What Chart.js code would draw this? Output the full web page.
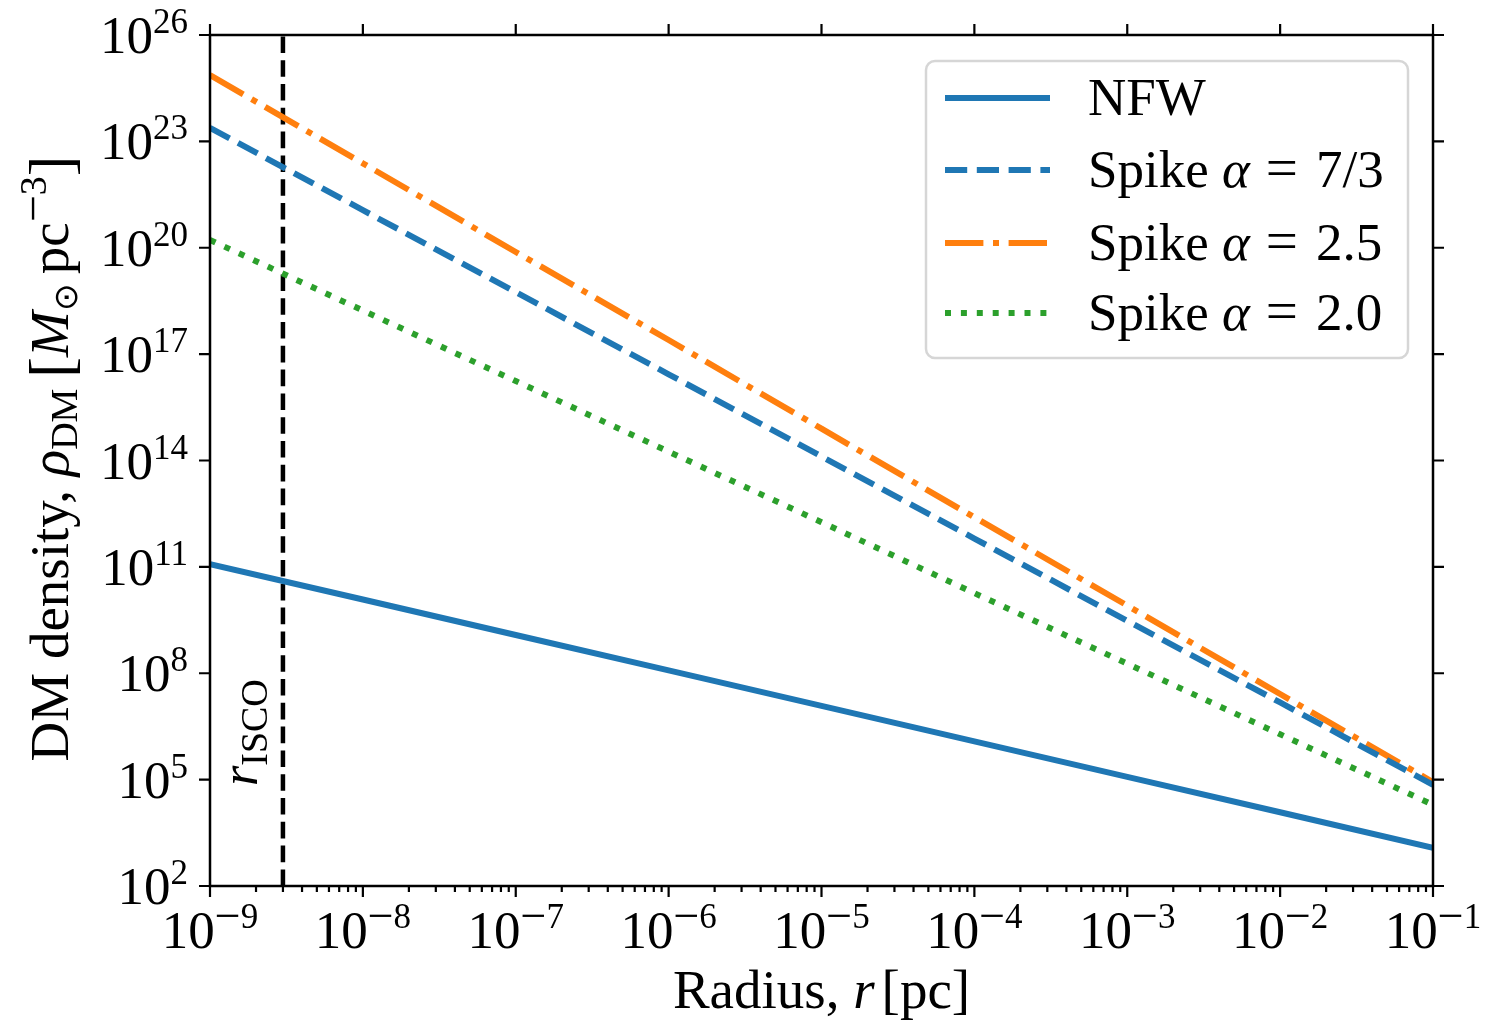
<!DOCTYPE html>
<html>
<head>
<meta charset="utf-8">
<script src="https://cdn.jsdelivr.net/npm/chart.js@4.4.1/dist/chart.umd.min.js"></script>
<style>
html,body{margin:0;padding:0;background:#fff;}
#wrap{width:1496px;height:1025px;position:relative;}
</style>
</head>
<body>
<div id="wrap"><canvas id="c"></canvas></div>
<script>
// ---- data ----
const radius      = [1e-9, 1e-8, 1e-7, 1e-6, 1e-5, 1e-4, 1e-3, 1e-2, 1e-1];
const rhoNFW      = [1.2e11, 1.2e10, 1.2e9, 1.2e8, 1.2e7, 1.2e6, 1.2e5, 1.2e4, 1.2e3];
const rhoSpike73  = [2.4e23, 1.15e21, 5.6e18, 2.7e16, 1.3e14, 6.3e11, 3.0e9, 1.5e7, 7.1e4];
const rhoSpike25  = [7.4e24, 2.4e22, 7.6e19, 2.5e17, 7.9e14, 2.5e12, 8.1e9, 2.6e7, 8.5e4];
const rhoSpike20  = [1.66e20, 1.7e18, 1.74e16, 1.78e14, 1.82e12, 1.82e10, 1.86e8, 1.9e6, 1.95e4];
const rISCO       = 3e-9;
const seriesLabels = ['NFW', 'Spike α = 7/3', 'Spike α = 2.5', 'Spike α = 2.0'];
const xTickExps   = [-9, -8, -7, -6, -5, -4, -3, -2, -1];
const yTickExps   = [2, 5, 8, 11, 14, 17, 20, 23, 26];
const xRange      = [1e-9, 1e-1];
const yRange      = [1e2, 1e26];

const SERIF = '"Liberation Serif", "Times New Roman", serif';
const LW = 6;

function pts(ys){ return radius.map((x,i)=>({x:x, y:ys[i]})); }

const datasets = [
  {label: seriesLabels[0], data: pts(rhoNFW), borderColor:'#1f77b4', borderWidth:LW, borderDash:[]},
  {label: seriesLabels[1], data: pts(rhoSpike73), borderColor:'#1f77b4', borderWidth:LW, borderDash:[3.7*LW,1.6*LW]},
  {label: seriesLabels[2], data: pts(rhoSpike25), borderColor:'#ff7f0e', borderWidth:LW, borderDash:[6.4*LW,1.6*LW,1*LW,1.6*LW]},
  {label: seriesLabels[3], data: pts(rhoSpike20), borderColor:'#2ca02c', borderWidth:LW, borderDash:[1*LW,1.65*LW]},
  {label: 'rISCO', data: [{x:rISCO, y:yRange[0]}, {x:rISCO, y:yRange[1]}], borderColor:'#000', borderWidth:4.5, borderDash:[16.6,7.2], isGuide:true}
].map(d => Object.assign({pointRadius:0, pointHoverRadius:0, tension:0, fill:false, borderCapStyle:'butt', borderJoinStyle:'miter'}, d));

function drawRuns(ctx, runs, x, y, align){
  let total = 0;
  runs.forEach(r => { ctx.font = r.font; r.w = ctx.measureText(r.t).width + (r.sp||0); total += r.w; });
  let cx = align === 'center' ? x - total/2 : (align === 'right' ? x - total : x);
  runs.forEach(r => { ctx.font = r.font; ctx.fillText(r.t, cx + (r.dx||0), y + (r.dy||0)); cx += r.w; });
  return total;
}
function powRuns(e){
  const runs = [{t:'10', font:`53px ${SERIF}`}];
  if (e < 0) runs.push({t:'\u2212', font:`46px ${SERIF}`, dy:-17});
  runs.push({t:String(Math.abs(e)), font:`35px ${SERIF}`, dy:-20});
  return runs;
}

const decor = {
  id:'decor',
  beforeDraw(chart){
    const ctx = chart.ctx;
    ctx.save(); ctx.fillStyle = '#fff'; ctx.fillRect(0,0,chart.width,chart.height); ctx.restore();
  },
  afterDatasetsDraw(chart){
    const ctx = chart.ctx, a = chart.chartArea;
    const xs = chart.scales.x, ys = chart.scales.y;
    ctx.save();
    ctx.strokeStyle = '#000'; ctx.fillStyle = '#000';
    ctx.lineWidth = 2.5;
    ctx.strokeRect(a.left, a.top, a.right - a.left, a.bottom - a.top);
    // ticks
    ctx.lineWidth = 2.2;
    ctx.beginPath();
    xTickExps.forEach(e => {
      const px = xs.getPixelForValue(Math.pow(10, e));
      ctx.moveTo(px, a.bottom); ctx.lineTo(px, a.bottom + 11);
      ctx.moveTo(px, a.top); ctx.lineTo(px, a.top - 11);
    });
    xTickExps.slice(0, -1).forEach(e => {
      for (let m = 2; m <= 9; m++){
        const px = xs.getPixelForValue(m * Math.pow(10, e));
        ctx.moveTo(px, a.bottom); ctx.lineTo(px, a.bottom + 6);
      }
    });
    yTickExps.forEach(e => {
      const py = ys.getPixelForValue(Math.pow(10, e));
      ctx.moveTo(a.left, py); ctx.lineTo(a.left - 11, py);
      ctx.moveTo(a.right, py); ctx.lineTo(a.right + 11, py);
    });
    ctx.stroke();
    // tick labels
    ctx.textAlign = 'left'; ctx.textBaseline = 'alphabetic';
    xTickExps.forEach(e => {
      const px = xs.getPixelForValue(Math.pow(10, e));
      drawRuns(ctx, powRuns(e), px, a.bottom + 62, 'center');
    });
    yTickExps.forEach(e => {
      const py = ys.getPixelForValue(Math.pow(10, e));
      drawRuns(ctx, powRuns(e), a.left - 22, py + 18, 'right');
    });
    // x title
    drawRuns(ctx, [
      {t:'Radius, ', font:`55px ${SERIF}`},
      {t:'r', font:`italic 55px ${SERIF}`, sp:7},
      {t:'[pc]', font:`55px ${SERIF}`}
    ], (a.left + a.right)/2, 1008, 'center');
    // y title
    ctx.save();
    ctx.translate(68, (a.top + a.bottom)/2 - 2);
    ctx.rotate(-Math.PI/2);
    drawRuns(ctx, [
      {t:'DM density, ', font:`55px ${SERIF}`},
      {t:'\u03C1', font:`italic 55px ${SERIF}`},
      {t:'DM', font:`38px ${SERIF}`, dy:9, sp:11},
      {t:'[', font:`62px ${SERIF}`, dy:4},
      {t:'M', font:`italic 55px ${SERIF}`},
      {t:'\u2299', font:`33px ${SERIF}`, dy:9, sp:9},
      {t:'pc', font:`55px ${SERIF}`},
      {t:'\u2212', font:`48px ${SERIF}`, dy:-19},
      {t:'3', font:`38px ${SERIF}`, dy:-22},
      {t:']', font:`62px ${SERIF}`, dy:4}
    ], 0, 0, 'center');
    ctx.restore();
    // r_ISCO label
    ctx.save();
    const rx = xs.getPixelForValue(rISCO);
    ctx.translate(rx - 26, 786);
    ctx.rotate(-Math.PI/2);
    drawRuns(ctx, [
      {t:'r', font:`italic 52px ${SERIF}`},
      {t:'ISCO', font:`38px ${SERIF}`, dy:10}
    ], 0, 0, 'left');
    ctx.restore();
    // legend
    const bx = 926, by = 61, bw = 482, bh = 297, br = 9;
    ctx.beginPath();
    ctx.moveTo(bx + br, by);
    ctx.arcTo(bx + bw, by, bx + bw, by + bh, br);
    ctx.arcTo(bx + bw, by + bh, bx, by + bh, br);
    ctx.arcTo(bx, by + bh, bx, by, br);
    ctx.arcTo(bx, by, bx + bw, by, br);
    ctx.closePath();
    ctx.fillStyle = 'rgba(255,255,255,0.8)'; ctx.fill();
    ctx.strokeStyle = '#d6d6d6'; ctx.lineWidth = 2.5; ctx.stroke();
    const rowY = [98, 170, 243, 313];
    const LF = `53px ${SERIF}`;
    chart.data.datasets.forEach((d, i) => {
      if (d.isGuide) return;
      const cy = rowY[i];
      ctx.save();
      ctx.strokeStyle = d.borderColor; ctx.lineWidth = d.borderWidth; ctx.lineCap = 'butt';
      ctx.setLineDash(d.borderDash || []);
      ctx.beginPath(); ctx.moveTo(945, cy); ctx.lineTo(1050, cy); ctx.stroke();
      ctx.restore();
      ctx.fillStyle = '#000';
      const parts = d.label.split('\u03B1');
      let runs;
      if (parts.length > 1){
        const rhs = parts[1].replace('=', '').trim();
        runs = [
          {t:parts[0], font:LF},
          {t:'\u03B1', font:`italic 53px ${SERIF}`, sp:16},
          {t:'=', font:`57px ${SERIF}`, sp:18},
          {t:rhs, font:LF}
        ];
      } else {
        runs = [{t:d.label, font:LF}];
      }
      drawRuns(ctx, runs, 1088, cy + 17, 'left');
    });
    ctx.restore();
  }
};

new Chart(document.getElementById('c'), {
  type:'line',
  data:{datasets: datasets},
  options:{
    responsive:true, maintainAspectRatio:false, devicePixelRatio:1,
    animation:false,
    layout:{padding:{left:210, right:63, top:35, bottom:139}},
    plugins:{legend:{display:false}, tooltip:{enabled:false}},
    events:[],
    scales:{
      x:{type:'logarithmic', min:xRange[0], max:xRange[1],
         ticks:{display:false}, grid:{display:false, drawTicks:false}, border:{display:false},
         afterFit(s){ s.height = 0; }},
      y:{type:'logarithmic', min:yRange[0], max:yRange[1],
         ticks:{display:false}, grid:{display:false, drawTicks:false}, border:{display:false},
         afterFit(s){ s.width = 0; }}
    }
  },
  plugins:[decor]
});
</script>
</body>
</html>
